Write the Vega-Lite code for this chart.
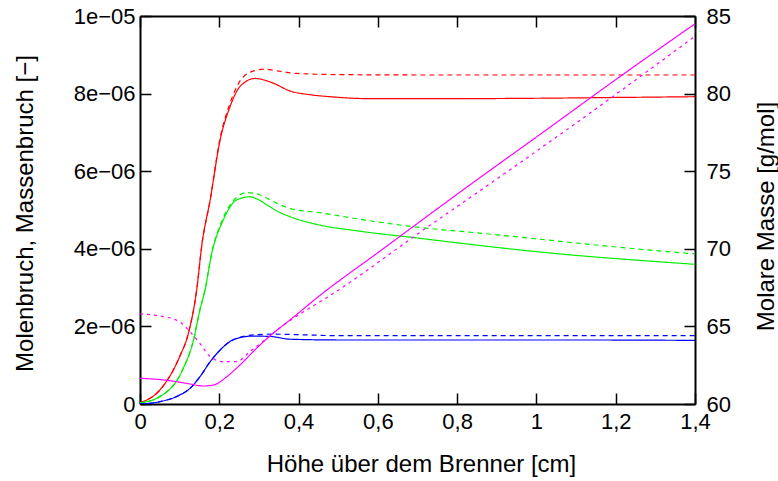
{
  "$schema": "https://vega.github.io/schema/vega-lite/v6.json",
  "width": 555,
  "height": 388,
  "autosize": {"type": "none"},
  "padding": {"left": 140, "top": 16, "right": 83, "bottom": 77},
  "background": "white",
  "config": {
    "view": {"stroke": null},
    "font": "Liberation Sans",
    "axis": {
      "grid": false,
      "domainColor": "black",
      "domainWidth": 2,
      "tickColor": "black",
      "tickWidth": 1.5,
      "tickSize": -11,
      "labelFont": "Liberation Sans",
      "labelFontSize": 22,
      "labelColor": "black",
      "titleFont": "Liberation Sans",
      "titleFontSize": 24,
      "titleFontWeight": "normal",
      "titleColor": "black"
    }
  },
  "data": {
    "values": [
      {"s": "rs", "x": 0, "y": 0.03}, {"s": "rs", "x": 0.05, "y": 0.36}, {"s": "rs", "x": 0.1, "y": 1.22}, {"s": "rs", "x": 0.122, "y": 1.82}, {"s": "rs", "x": 0.143, "y": 2.94}, {"s": "rs", "x": 0.156, "y": 4.1}, {"s": "rs", "x": 0.177, "y": 5.26}, {"s": "rs", "x": 0.202, "y": 6.8}, {"s": "rs", "x": 0.227, "y": 7.66}, {"s": "rs", "x": 0.252, "y": 8.18}, {"s": "rs", "x": 0.29, "y": 8.39}, {"s": "rs", "x": 0.336, "y": 8.27}, {"s": "rs", "x": 0.378, "y": 8.07}, {"s": "rs", "x": 0.43, "y": 7.97}, {"s": "rs", "x": 0.48, "y": 7.92}, {"s": "rs", "x": 0.58, "y": 7.87}, {"s": "rs", "x": 0.8, "y": 7.87}, {"s": "rs", "x": 1.0, "y": 7.88}, {"s": "rs", "x": 1.2, "y": 7.9}, {"s": "rs", "x": 1.4, "y": 7.92},
      {"s": "rd", "x": 0, "y": 0.03}, {"s": "rd", "x": 0.05, "y": 0.36}, {"s": "rd", "x": 0.1, "y": 1.22}, {"s": "rd", "x": 0.122, "y": 1.82}, {"s": "rd", "x": 0.143, "y": 2.94}, {"s": "rd", "x": 0.156, "y": 4.1}, {"s": "rd", "x": 0.177, "y": 5.26}, {"s": "rd", "x": 0.202, "y": 6.85}, {"s": "rd", "x": 0.227, "y": 7.75}, {"s": "rd", "x": 0.252, "y": 8.32}, {"s": "rd", "x": 0.28, "y": 8.56}, {"s": "rd", "x": 0.315, "y": 8.63}, {"s": "rd", "x": 0.35, "y": 8.58}, {"s": "rd", "x": 0.395, "y": 8.52}, {"s": "rd", "x": 0.5, "y": 8.49}, {"s": "rd", "x": 0.7, "y": 8.48}, {"s": "rd", "x": 1.0, "y": 8.48}, {"s": "rd", "x": 1.4, "y": 8.48},
      {"s": "gs", "x": 0, "y": 0.03}, {"s": "gs", "x": 0.05, "y": 0.19}, {"s": "gs", "x": 0.105, "y": 0.83}, {"s": "gs", "x": 0.135, "y": 1.65}, {"s": "gs", "x": 0.151, "y": 2.42}, {"s": "gs", "x": 0.164, "y": 2.94}, {"s": "gs", "x": 0.181, "y": 3.88}, {"s": "gs", "x": 0.21, "y": 4.74}, {"s": "gs", "x": 0.244, "y": 5.26}, {"s": "gs", "x": 0.277, "y": 5.34}, {"s": "gs", "x": 0.3, "y": 5.26}, {"s": "gs", "x": 0.325, "y": 5.1}, {"s": "gs", "x": 0.35, "y": 4.95}, {"s": "gs", "x": 0.378, "y": 4.83}, {"s": "gs", "x": 0.454, "y": 4.61}, {"s": "gs", "x": 0.55, "y": 4.46}, {"s": "gs", "x": 0.706, "y": 4.27}, {"s": "gs", "x": 0.82, "y": 4.13}, {"s": "gs", "x": 0.959, "y": 3.97}, {"s": "gs", "x": 1.1, "y": 3.83}, {"s": "gs", "x": 1.25, "y": 3.71}, {"s": "gs", "x": 1.4, "y": 3.6},
      {"s": "gd", "x": 0, "y": 0.03}, {"s": "gd", "x": 0.05, "y": 0.19}, {"s": "gd", "x": 0.105, "y": 0.83}, {"s": "gd", "x": 0.135, "y": 1.65}, {"s": "gd", "x": 0.151, "y": 2.42}, {"s": "gd", "x": 0.164, "y": 2.94}, {"s": "gd", "x": 0.181, "y": 3.9}, {"s": "gd", "x": 0.21, "y": 4.8}, {"s": "gd", "x": 0.244, "y": 5.33}, {"s": "gd", "x": 0.27, "y": 5.45}, {"s": "gd", "x": 0.3, "y": 5.4}, {"s": "gd", "x": 0.325, "y": 5.28}, {"s": "gd", "x": 0.35, "y": 5.15}, {"s": "gd", "x": 0.378, "y": 5.04}, {"s": "gd", "x": 0.454, "y": 4.93}, {"s": "gd", "x": 0.55, "y": 4.77}, {"s": "gd", "x": 0.706, "y": 4.55}, {"s": "gd", "x": 0.82, "y": 4.44}, {"s": "gd", "x": 0.959, "y": 4.3}, {"s": "gd", "x": 1.1, "y": 4.15}, {"s": "gd", "x": 1.25, "y": 4.0}, {"s": "gd", "x": 1.4, "y": 3.87},
      {"s": "bs", "x": 0, "y": 0.0}, {"s": "bs", "x": 0.05, "y": 0.06}, {"s": "bs", "x": 0.1, "y": 0.23}, {"s": "bs", "x": 0.126, "y": 0.4}, {"s": "bs", "x": 0.151, "y": 0.7}, {"s": "bs", "x": 0.177, "y": 1.09}, {"s": "bs", "x": 0.202, "y": 1.39}, {"s": "bs", "x": 0.227, "y": 1.61}, {"s": "bs", "x": 0.252, "y": 1.71}, {"s": "bs", "x": 0.286, "y": 1.75}, {"s": "bs", "x": 0.33, "y": 1.74}, {"s": "bs", "x": 0.378, "y": 1.67}, {"s": "bs", "x": 0.505, "y": 1.65}, {"s": "bs", "x": 0.8, "y": 1.65}, {"s": "bs", "x": 1.1, "y": 1.65}, {"s": "bs", "x": 1.4, "y": 1.64},
      {"s": "bd", "x": 0, "y": 0.0}, {"s": "bd", "x": 0.05, "y": 0.06}, {"s": "bd", "x": 0.1, "y": 0.23}, {"s": "bd", "x": 0.126, "y": 0.4}, {"s": "bd", "x": 0.151, "y": 0.7}, {"s": "bd", "x": 0.177, "y": 1.09}, {"s": "bd", "x": 0.202, "y": 1.39}, {"s": "bd", "x": 0.227, "y": 1.61}, {"s": "bd", "x": 0.252, "y": 1.72}, {"s": "bd", "x": 0.286, "y": 1.78}, {"s": "bd", "x": 0.336, "y": 1.8}, {"s": "bd", "x": 0.42, "y": 1.78}, {"s": "bd", "x": 0.505, "y": 1.76}, {"s": "bd", "x": 0.8, "y": 1.76}, {"s": "bd", "x": 1.1, "y": 1.76}, {"s": "bd", "x": 1.4, "y": 1.76},
      {"s": "ms", "x": 0, "y": 61.66}, {"s": "ms", "x": 0.076, "y": 61.5}, {"s": "ms", "x": 0.126, "y": 61.29}, {"s": "ms", "x": 0.16, "y": 61.16}, {"s": "ms", "x": 0.185, "y": 61.22}, {"s": "ms", "x": 0.219, "y": 61.76}, {"s": "ms", "x": 0.252, "y": 62.51}, {"s": "ms", "x": 0.294, "y": 63.59}, {"s": "ms", "x": 0.336, "y": 64.56}, {"s": "ms", "x": 0.378, "y": 65.41}, {"s": "ms", "x": 0.454, "y": 67.0}, {"s": "ms", "x": 0.6, "y": 69.75}, {"s": "ms", "x": 0.849, "y": 74.43}, {"s": "ms", "x": 1.0, "y": 77.2}, {"s": "ms", "x": 1.2, "y": 80.9}, {"s": "ms", "x": 1.4, "y": 84.5},
      {"s": "md", "x": 0, "y": 65.8}, {"s": "md", "x": 0.05, "y": 65.67}, {"s": "md", "x": 0.1, "y": 65.3}, {"s": "md", "x": 0.126, "y": 64.66}, {"s": "md", "x": 0.151, "y": 63.91}, {"s": "md", "x": 0.177, "y": 63.05}, {"s": "md", "x": 0.21, "y": 62.73}, {"s": "md", "x": 0.244, "y": 62.73}, {"s": "md", "x": 0.277, "y": 63.37}, {"s": "md", "x": 0.32, "y": 64.23}, {"s": "md", "x": 0.362, "y": 65.09}, {"s": "md", "x": 0.42, "y": 66.06}, {"s": "md", "x": 0.488, "y": 67.13}, {"s": "md", "x": 0.7, "y": 70.95}, {"s": "md", "x": 0.896, "y": 74.43}, {"s": "md", "x": 1.1, "y": 78.1}, {"s": "md", "x": 1.4, "y": 83.7}
    ]
  },
  "encoding": {
    "x": {"field": "x", "type": "quantitative", "scale": {"domain": [0, 1.4], "nice": false, "zero": false}},
    "color": {"field": "s", "type": "nominal", "legend": null,
      "scale": {"domain": ["rs", "rd", "gs", "gd", "bs", "bd", "ms", "md"],
                "range": ["#ff0000", "#ff0000", "#00ee00", "#00ee00", "#0000ff", "#0000ff", "#ff00ff", "#ff00ff"]}},
    "strokeDash": {"field": "s", "type": "nominal", "legend": null,
      "scale": {"domain": ["rs", "rd", "gs", "gd", "bs", "bd", "ms", "md"],
                "range": [[1, 0], [5, 4], [1, 0], [5, 4], [1, 0], [5, 4], [1, 0], [3, 4]]}}
  },
  "layer": [
    {
      "transform": [{"filter": "indexof(['rs','rd','gs','gd','bs','bd'], datum.s) >= 0"}, {"calculate": "datum.y * 1e-6", "as": "v"}],
      "mark": {"type": "line", "strokeWidth": 1.2, "interpolate": "monotone", "clip": true},
      "encoding": {
        "x": {"field": "x", "type": "quantitative",
          "axis": {"orient": "bottom", "title": "Höhe über dem Brenner [cm]", "values": [0, 0.2, 0.4, 0.6, 0.8, 1, 1.2, 1.4],
            "format": "~g", "labelExpr": "replace(datum.label, '.', ',')", "labelPadding": 18, "labelFlush": false,
            "titleX": 281, "titleY": 67, "titleBaseline": "alphabetic", "titleAnchor": null}},
        "y": {"field": "v", "type": "quantitative", "scale": {"domain": [0, 1e-5], "nice": false, "zero": false},
          "axis": {"orient": "left", "title": "Molenbruch, Massenbruch [−]", "values": [0, 2e-6, 4e-6, 6e-6, 8e-6, 1e-5],
            "labelExpr": "datum.value < 1e-7 ? '0' : datum.value > 9e-6 ? '1e−05' : round(datum.value * 1e6) + 'e−06'",
            "labelPadding": 16, "labelFlush": false,
            "titleX": -108, "titleY": 197, "titleBaseline": "alphabetic", "titleAngle": -90}}
      }
    },
    {
      "transform": [{"filter": "datum.s == 'ms' || datum.s == 'md'"}],
      "mark": {"type": "line", "strokeWidth": 1.2, "interpolate": "monotone", "clip": true},
      "encoding": {
        "x": {"field": "x", "type": "quantitative",
          "axis": {"orient": "top", "title": null, "labels": false, "values": [0, 0.2, 0.4, 0.6, 0.8, 1, 1.2, 1.4]}},
        "y": {"field": "y", "type": "quantitative", "scale": {"domain": [60, 85], "nice": false, "zero": false},
          "axis": {"orient": "right", "title": "Molare Masse [g/mol]", "values": [60, 65, 70, 75, 80, 85],
            "labelPadding": 22, "labelFlush": false,
            "titleX": 78, "titleY": 200, "titleBaseline": "alphabetic", "titleAngle": -90}}
      }
    }
  ],
  "resolve": {"scale": {"y": "independent"}, "axis": {"x": "independent"}}
}
